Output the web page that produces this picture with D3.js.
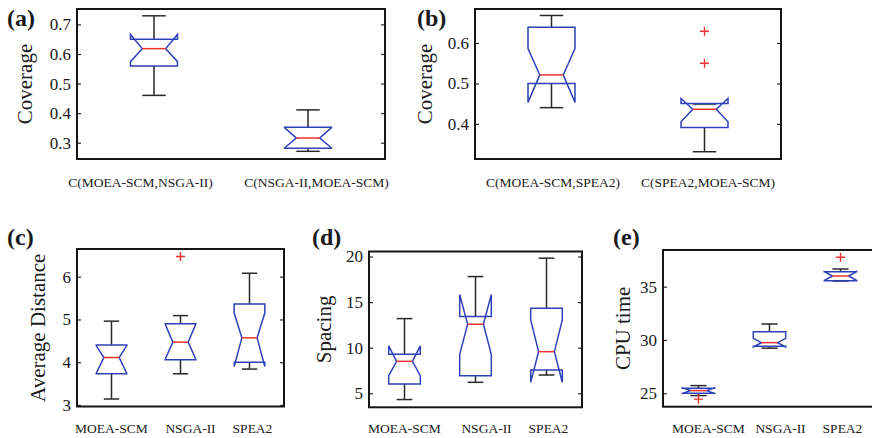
<!DOCTYPE html>
<html>
<head>
<meta charset="utf-8">
<script src="https://cdn.jsdelivr.net/npm/d3@7"></script>
<style>
  html, body { margin: 0; padding: 0; background: #fff; }
  svg { display: block; }
  text { font-family: "Liberation Serif", "Times New Roman", serif; fill: #1a1a1a; }
</style>
</head>
<body>
<svg id="chart" width="872" height="438"></svg>
<script>
// ---- Box statistics (whiskers, quartiles, median, notch limits, outliers) ----
const coverageNsga = [
  { name: "C(MOEA-SCM,NSGA-II)", lo: 0.460, q1: 0.559, med: 0.618, q3: 0.650, hi: 0.729, nlo: 0.574, nhi: 0.666, out: [] },
  { name: "C(NSGA-II,MOEA-SCM)", lo: 0.271, q1: 0.281, med: 0.316, q3: 0.352, hi: 0.411, nlo: 0.282, nhi: 0.351, out: [] }
];
const coverageSpea = [
  { name: "C(MOEA-SCM,SPEA2)", lo: 0.440, q1: 0.500, med: 0.521, q3: 0.639, hi: 0.668, nlo: 0.453, nhi: 0.586, out: [] },
  { name: "C(SPEA2,MOEA-SCM)", lo: 0.331, q1: 0.391, med: 0.436, q3: 0.450, hi: 0.449, nlo: 0.405, nhi: 0.463, out: [0.629, 0.550] }
];
const avgDistance = [
  { name: "MOEA-SCM", lo: 3.14, q1: 3.73, med: 4.11, q3: 4.40, hi: 4.96, nlo: 3.74, nhi: 4.39, out: [] },
  { name: "NSGA-II",  lo: 3.73, q1: 4.06, med: 4.47, q3: 4.90, hi: 5.09, nlo: 4.07, nhi: 4.89, out: [6.47] },
  { name: "SPEA2",    lo: 3.84, q1: 4.00, med: 4.57, q3: 5.36, hi: 6.08, nlo: 3.90, nhi: 5.15, out: [] }
];
const spacing = [
  { name: "MOEA-SCM", lo: 4.31, q1: 6.01, med: 8.50, q3: 9.27, hi: 13.19, nlo: 6.92, nhi: 10.19, out: [] },
  { name: "NSGA-II",  lo: 6.20, q1: 6.92, med: 12.57, q3: 13.41, hi: 17.80, nlo: 9.27, nhi: 15.82, out: [] },
  { name: "SPEA2",    lo: 7.00, q1: 7.55, med: 9.56, q3: 14.33, hi: 19.82, nlo: 6.20, nhi: 13.04, out: [] }
];
const cpuTime = [
  { name: "MOEA-SCM", lo: 24.78, q1: 25.00, med: 25.25, q3: 25.48, hi: 25.72, nlo: 24.98, nhi: 25.52, out: [24.45] },
  { name: "NSGA-II",  lo: 29.23, q1: 29.42, med: 29.75, q3: 30.78, hi: 31.50, nlo: 29.35, nhi: 30.15, out: [] },
  { name: "SPEA2",    lo: 35.53, q1: 35.55, med: 36.00, q3: 36.40, hi: 36.66, nlo: 35.58, nhi: 36.42, out: [37.76] }
];

// ---- Tick values for each y axis ----
const ticksA = [0.3, 0.4, 0.5, 0.6, 0.7];
const ticksB = [0.4, 0.5, 0.6];
const ticksC = [3, 4, 5, 6];
const ticksD = [5, 10, 15, 20];
const ticksE = [25, 30, 35];

// ---- Panel layout ----
const panels = [
  { letter: "(a)", lx: 7,   ly: 26,  frame: [77, 9, 385, 159],   dom: [0.245, 0.752], ticks: ticksA, fmt: d3.format(".1f"),
    data: coverageNsga, half: 23.5, shift: [-13.5, 8.5], ylabel: "Coverage", yx: 32, catDy: 28 },
  { letter: "(b)", lx: 417, ly: 26,  frame: [475, 9, 781, 159],  dom: [0.313, 0.684], ticks: ticksB, fmt: d3.format(".1f"),
    data: coverageSpea, half: 23.5, shift: [1.5, 3.5], ylabel: "Coverage", yx: 432, catDy: 28 },
  { letter: "(c)", lx: 7,   ly: 245, frame: [77, 249, 284, 406.5], dom: [2.965, 6.647], ticks: ticksC, fmt: d3.format("d"),
    data: avgDistance, half: 15.3, shift: [0, 10, 3], ylabel: "Average Distance", yx: 45, catDy: 26 },
  { letter: "(d)", lx: 312, ly: 245, frame: [369, 251.5, 582, 407.3], dom: [3.46, 20.55], ticks: ticksD, fmt: d3.format("d"),
    data: spacing, half: 15.8, shift: [0, 11, 2], ylabel: "Spacing", yx: 331, catDy: 26 },
  { letter: "(e)", lx: 613, ly: 245, frame: [663, 250, 876, 406.7], dom: [23.74, 38.44], ticks: ticksE, fmt: d3.format("d"),
    data: cpuTime, half: 16.2, shift: [10, 11, 2], ylabel: "CPU time", yx: 630, catDy: 26 }
];

const BLUE = "#2f40b8", RED = "#e8322c", BLACK = "#2a2a2a";
const svg = d3.select("#chart");

panels.forEach(p => {
  const [l, t, r, b] = p.frame;
  const n = p.data.length;
  const x = d3.scaleLinear().domain([0.5, n + 0.5]).range([l, r]);
  const y = d3.scaleLinear().domain(p.dom).range([b, t]);
  const g = svg.append("g");

  // left axis with inward ticks
  const left = g.append("g").attr("transform", `translate(${l},0)`)
    .call(d3.axisLeft(y).tickValues(p.ticks).tickFormat(p.fmt).tickSizeInner(-4).tickSizeOuter(0).tickPadding(6));
  left.select(".domain").remove();
  left.selectAll("line").attr("stroke", BLACK).attr("stroke-width", 1.2);
  left.selectAll("text").attr("font-size", 17).attr("fill", "#1a1a1a")
    .style("font-family", '"Liberation Serif", "Times New Roman", serif');

  // right side tick marks
  const right = g.append("g").attr("transform", `translate(${r},0)`)
    .call(d3.axisRight(y).tickValues(p.ticks).tickFormat("").tickSizeInner(-4).tickSizeOuter(0));
  right.select(".domain").remove();
  right.selectAll("line").attr("stroke", BLACK).attr("stroke-width", 1.2);

  // category labels
  g.selectAll("text.cat").data(p.data).join("text")
    .attr("class", "cat")
    .attr("x", (d, i) => x(i + 1) + p.shift[i])
    .attr("y", b + p.catDy)
    .attr("text-anchor", "middle")
    .attr("font-size", 13.5)
    .text(d => d.name);

  // y label
  g.append("text")
    .attr("transform", `translate(${p.yx},${(t + b) / 2}) rotate(-90)`)
    .attr("text-anchor", "middle")
    .attr("font-size", 21)
    .text(p.ylabel);

  // panel letter
  g.append("text").attr("x", p.lx).attr("y", p.ly)
    .attr("font-size", 24).attr("font-weight", "bold").text(p.letter);

  const boxes = g.selectAll("g.box").data(p.data).join("g").attr("class", "box");
  const hw = p.half, cap = p.half / 2;

  boxes.each(function (d, i) {
    const s = d3.select(this);
    const c = x(i + 1);

    // whiskers and caps
    [[d.q3, d.hi], [d.q1, d.lo]].forEach(([from, to]) => {
      s.append("line").attr("x1", c).attr("x2", c).attr("y1", y(from)).attr("y2", y(to))
        .attr("stroke", BLACK).attr("stroke-width", 1.5);
      s.append("line").attr("x1", c - cap).attr("x2", c + cap).attr("y1", y(to)).attr("y2", y(to))
        .attr("stroke", BLACK).attr("stroke-width", 1.5);
    });

    // notched box outline
    const L = c - hw, R = c + hw, Li = c - hw / 2, Ri = c + hw / 2;
    const pts = [
      [L, y(d.q1)], [L, y(d.nlo)], [Li, y(d.med)], [L, y(d.nhi)], [L, y(d.q3)],
      [R, y(d.q3)], [R, y(d.nhi)], [Ri, y(d.med)], [R, y(d.nlo)], [R, y(d.q1)]
    ];
    s.append("path").attr("d", d3.line()(pts) + "Z")
      .attr("fill", "none").attr("stroke", BLUE).attr("stroke-width", 1.5)
      .attr("stroke-linejoin", "miter");

    // median
    s.append("line").attr("x1", Li).attr("x2", Ri).attr("y1", y(d.med)).attr("y2", y(d.med))
      .attr("stroke", RED).attr("stroke-width", 1.5);

    // outliers
    d.out.forEach(v => {
      s.append("path").attr("d", `M${c - 4.5},${y(v)}H${c + 4.5}M${c},${y(v) - 4.5}V${y(v) + 4.5}`)
        .attr("stroke", RED).attr("stroke-width", 1.4).attr("fill", "none");
    });
  });

  // frame
  g.append("rect").attr("x", l).attr("y", t).attr("width", r - l).attr("height", b - t)
    .attr("fill", "none").attr("stroke", "#161616").attr("stroke-width", 2);
});
</script>
</body>
</html>
